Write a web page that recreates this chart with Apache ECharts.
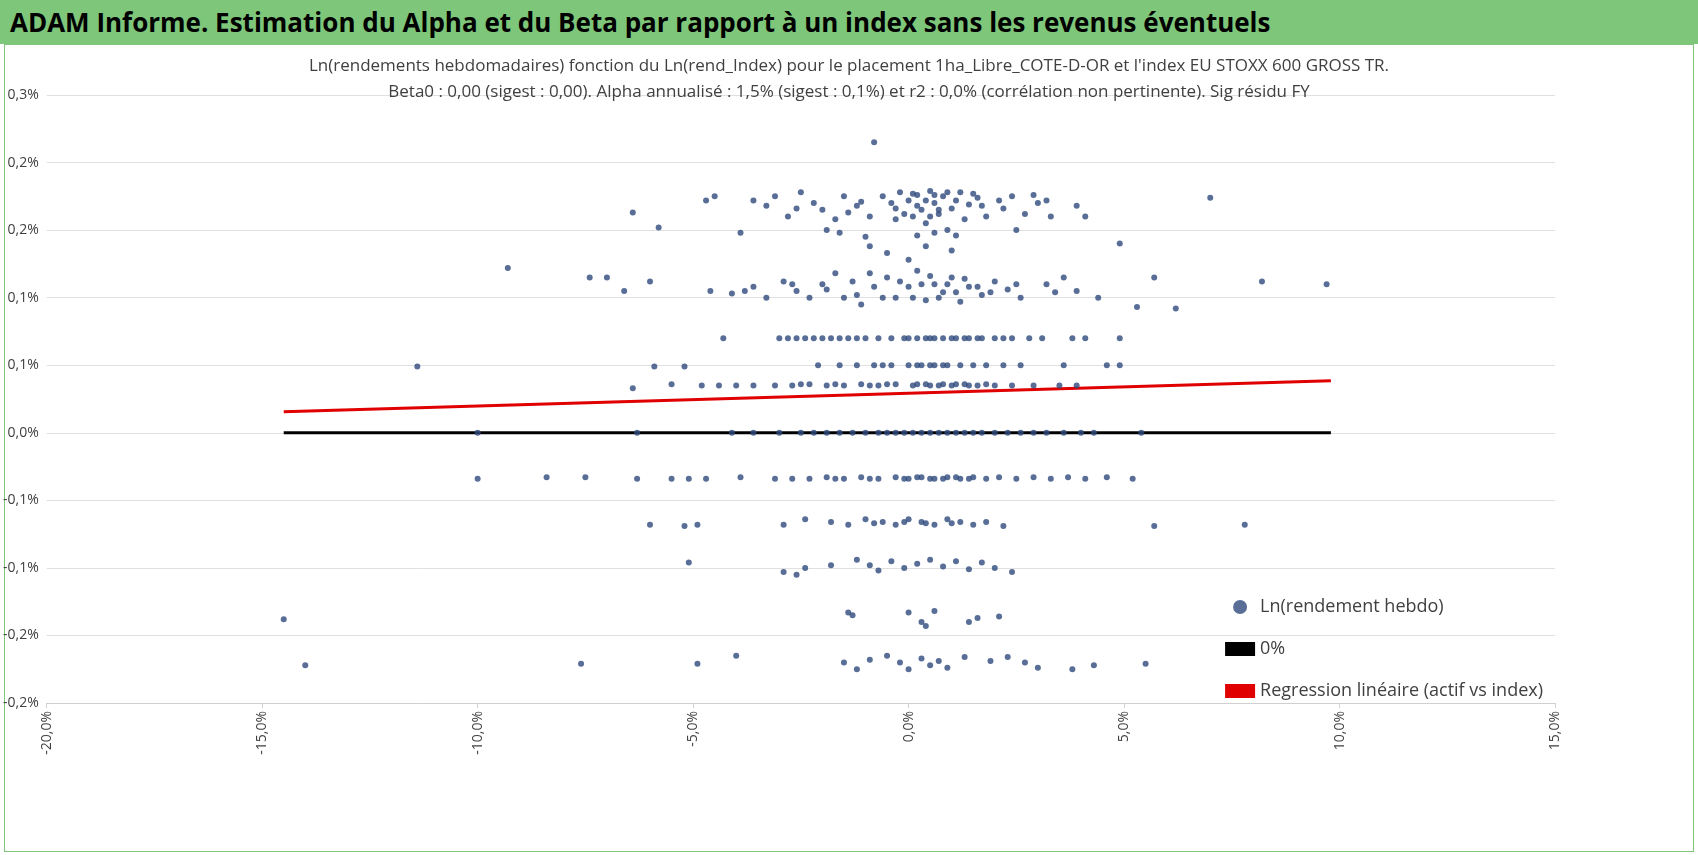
<!DOCTYPE html>
<html><head><meta charset="utf-8">
<script src="https://cdn.jsdelivr.net/npm/echarts@6/dist/echarts.min.js"></script>
<style>
html,body{margin:0;padding:0;background:#fff;}
#hdr{position:absolute;left:0;top:0;width:1698px;height:44px;background:#7dc67a;font:bold 26px "Open Sans",sans-serif;line-height:44px;box-sizing:border-box;padding-left:10px;}
#frame{position:absolute;left:4px;top:44px;width:1688px;height:806px;border:1px solid #7dc67a;}
#chart{position:absolute;left:0;top:44px;width:1698px;height:811px;}
</style></head><body>
<div id="hdr">ADAM Informe. Estimation du Alpha et du Beta par rapport à un index sans les revenus éventuels</div>
<div id="frame"></div>
<div id="chart"></div>
<script>
/* valeurs en % : [x (rend index), y (rend hebdo)] */
const band017 = [[-6.4,0.163],[-5.8,0.152],[-4.7,0.172],[-4.5,0.175],[-3.9,0.148],[-3.3,0.168],[-3.1,0.175],[-2.8,0.160],[-2.5,0.178],[-2.2,0.170],[-2.0,0.165],[-1.7,0.158],[-1.5,0.175],[-1.2,0.168],[-0.9,0.160],[-0.8,0.215],[-0.6,0.175],[-0.4,0.170],[-0.2,0.178],[0.0,0.172],[0.2,0.176],[0.3,0.165],[0.5,0.179],[0.6,0.170],[0.8,0.175],[1.0,0.166],[1.2,0.178],[1.4,0.169],[1.6,0.174],[1.8,0.160],[2.1,0.172],[2.4,0.175],[2.7,0.162],[3.0,0.170],[3.3,0.160],[3.9,0.168],[4.1,0.160],[7.0,0.174],
  [-1.9,0.150],[-1.0,0.145],[-0.3,0.158],[0.1,0.160],[0.4,0.155],[0.7,0.162],[0.9,0.150],[1.3,0.158],[2.5,0.150],[-0.5,0.133],[0.0,0.128],[0.4,0.138],[-0.9,0.138],[1.0,0.135],[4.9,0.140],
  [-3.6,0.172],[-2.6,0.166],[-1.4,0.163],[-1.1,0.171],[-0.3,0.166],[0.1,0.177],[0.2,0.168],[0.4,0.172],[0.6,0.176],[0.7,0.165],[0.9,0.178],[1.1,0.172],[1.5,0.177],[2.2,0.166],[2.9,0.176],[3.2,0.172],[-0.1,0.162],[0.5,0.160],[1.7,0.168],[-1.6,0.148],[0.2,0.146],[0.6,0.148],[1.1,0.146]];
const band010 = [[-9.3,0.122],[-7.4,0.115],[-7.0,0.115],[-6.6,0.105],[-6.0,0.112],[-4.6,0.105],[-3.8,0.105],[-3.6,0.108],[-3.3,0.100],[-2.9,0.112],[-2.6,0.105],[-2.3,0.100],[-2.0,0.110],[-1.7,0.118],[-1.5,0.100],[-1.3,0.112],[-1.1,0.095],[-0.8,0.108],[-0.5,0.115],[-0.3,0.100],[0.0,0.108],[0.2,0.120],[0.4,0.098],[0.6,0.110],[0.8,0.104],[1.0,0.115],[1.2,0.097],[1.4,0.108],[1.7,0.102],[2.0,0.112],[2.3,0.106],[2.6,0.100],[3.2,0.110],[3.6,0.115],[3.9,0.105],[4.4,0.100],[5.3,0.093],[5.7,0.115],[6.2,0.092],[8.2,0.112],[9.7,0.110],
  [-4.1,0.103],[-2.7,0.110],[-1.9,0.106],[-1.2,0.102],[-0.9,0.118],[-0.6,0.100],[-0.2,0.112],[0.1,0.100],[0.3,0.110],[0.5,0.116],[0.7,0.100],[0.9,0.110],[1.1,0.104],[1.3,0.114],[1.6,0.108],[1.9,0.104],[2.5,0.110],[3.4,0.104]];
const band007 = [[-4.3,0.070],[-3.0,0.070],[-2.8,0.070],[-2.6,0.070],[-2.4,0.070],[-2.2,0.070],[-2.0,0.070],[-1.8,0.070],[-1.6,0.070],[-1.4,0.070],[-1.2,0.070],[-1.0,0.070],[-0.7,0.070],[-0.4,0.070],[-0.1,0.070],[0.0,0.070],[0.2,0.070],[0.4,0.070],[0.5,0.070],[0.6,0.070],[0.8,0.070],[1.0,0.070],[1.1,0.070],[1.3,0.070],[1.4,0.070],[1.6,0.070],[1.7,0.070],[2.0,0.070],[2.2,0.070],[2.4,0.070],[2.8,0.070],[3.1,0.070],[3.8,0.070],[4.1,0.070],[4.9,0.070]];
const band005 = [[-11.4,0.049],[-5.9,0.049],[-5.2,0.049],[-2.1,0.050],[-1.6,0.050],[-1.2,0.050],[-0.8,0.050],[-0.6,0.050],[-0.4,0.050],[0.0,0.050],[0.2,0.050],[0.3,0.050],[0.5,0.050],[0.6,0.050],[0.8,0.050],[0.9,0.050],[1.2,0.050],[1.5,0.050],[1.8,0.050],[2.2,0.050],[2.6,0.050],[3.6,0.050],[4.6,0.050],[4.9,0.050]];
const band0035 = [[-6.4,0.033],[-5.5,0.036],[-4.8,0.035],[-4.4,0.035],[-4.0,0.035],[-3.6,0.035],[-3.1,0.035],[-2.7,0.035],[-2.5,0.036],[-2.3,0.036],[-1.9,0.035],[-1.7,0.036],[-1.5,0.035],[-1.1,0.036],[-0.9,0.035],[-0.7,0.035],[-0.5,0.036],[-0.3,0.036],[0.1,0.035],[0.2,0.036],[0.4,0.036],[0.5,0.035],[0.7,0.035],[0.8,0.036],[1.0,0.035],[1.1,0.036],[1.3,0.036],[1.4,0.035],[1.6,0.035],[1.8,0.036],[2.0,0.035],[2.4,0.035],[2.9,0.035],[3.5,0.035],[3.9,0.035]];
const band000 = [[-10.0,0],[-6.3,0],[-4.1,0],[-3.6,0],[-3.0,0],[-2.5,0],[-2.2,0],[-1.9,0],[-1.6,0],[-1.3,0],[-1.0,0],[-0.7,0],[-0.5,0],[-0.3,0],[-0.1,0],[0.1,0],[0.3,0],[0.5,0],[0.7,0],[0.9,0],[1.1,0],[1.3,0],[1.5,0],[1.7,0],[2.0,0],[2.3,0],[2.6,0],[2.9,0],[3.2,0],[3.6,0],[4.0,0],[4.3,0],[5.4,0]];
const bandm033 = [[-10.0,-0.034],[-8.4,-0.033],[-7.5,-0.033],[-6.3,-0.034],[-5.5,-0.034],[-5.1,-0.034],[-4.7,-0.034],[-3.9,-0.033],[-3.1,-0.034],[-2.7,-0.034],[-2.3,-0.034],[-1.9,-0.033],[-1.7,-0.034],[-1.5,-0.034],[-1.1,-0.033],[-0.9,-0.034],[-0.7,-0.034],[-0.3,-0.033],[-0.1,-0.034],[0.0,-0.034],[0.2,-0.033],[0.3,-0.033],[0.5,-0.034],[0.6,-0.034],[0.8,-0.034],[0.9,-0.033],[1.1,-0.033],[1.2,-0.034],[1.4,-0.034],[1.5,-0.033],[1.8,-0.034],[2.1,-0.033],[2.5,-0.034],[2.9,-0.033],[3.3,-0.034],[3.7,-0.033],[4.1,-0.034],[4.6,-0.033],[5.2,-0.034]];
const bandm066 = [[-6.0,-0.068],[-5.2,-0.069],[-4.9,-0.068],[-2.9,-0.068],[-2.4,-0.064],[-1.8,-0.066],[-1.4,-0.068],[-1.0,-0.064],[-0.8,-0.067],[-0.6,-0.066],[-0.3,-0.068],[-0.1,-0.066],[0.0,-0.064],[0.3,-0.066],[0.4,-0.067],[0.6,-0.068],[0.9,-0.064],[1.0,-0.067],[1.2,-0.066],[1.5,-0.068],[1.8,-0.066],[2.2,-0.069],[5.7,-0.069],[7.8,-0.068]];
const bandm098 = [[-5.1,-0.096],[-2.9,-0.103],[-2.6,-0.105],[-2.4,-0.100],[-1.8,-0.098],[-1.2,-0.094],[-0.9,-0.098],[-0.7,-0.102],[-0.4,-0.095],[-0.1,-0.100],[0.2,-0.097],[0.5,-0.094],[0.8,-0.099],[1.1,-0.095],[1.4,-0.101],[1.7,-0.096],[2.0,-0.100],[2.4,-0.103]];
const bandm137 = [[-14.5,-0.138],[-1.4,-0.133],[-1.3,-0.135],[0.0,-0.133],[0.3,-0.140],[0.4,-0.143],[0.6,-0.132],[1.4,-0.140],[1.6,-0.137],[2.1,-0.136]];
const bandm168 = [[-14.0,-0.172],[-7.6,-0.171],[-4.9,-0.171],[-4.0,-0.165],[-1.5,-0.170],[-1.2,-0.175],[-0.9,-0.168],[-0.5,-0.165],[-0.2,-0.170],[0.0,-0.175],[0.3,-0.167],[0.5,-0.172],[0.7,-0.169],[0.9,-0.174],[1.3,-0.166],[1.9,-0.169],[2.3,-0.166],[2.7,-0.170],[3.0,-0.174],[3.8,-0.175],[4.3,-0.172],[5.5,-0.171]];
const zeroLine = [[-14.5,0],[9.8,0]];
const regLine = [[-14.5,0.0156],[9.8,0.0385]];

const points = [].concat(band017,band010,band007,band005,band0035,band000,bandm033,bandm066,bandm098,bandm137,bandm168);
// arrondi à 1 décimale, demi loin de zéro, virgule décimale
const fmt = v => {
  const r = Math.sign(v) * Math.round(Math.abs(v) * 10 + 1e-9) / 10;
  return (r === 0 ? 0 : r).toFixed(1).replace('.', ',') + '%';
};

const chart = echarts.init(document.getElementById('chart'));
chart.setOption({
  animation:false,
  title:{text:"Ln(rendements hebdomadaires) fonction du Ln(rend_Index) pour le placement 1ha_Libre_COTE-D-OR et l'index EU STOXX 600 GROSS TR.\nBeta0 : 0,00 (sigest : 0,00). Alpha annualisé : 1,5% (sigest : 0,1%) et r2 : 0,0% (corrélation non pertinente). Sig résidu FY",
    left:'center',top:4,textStyle:{fontFamily:'Open Sans',fontSize:17,fontWeight:'normal',color:'#404040',lineHeight:26,align:'center'}},
  grid:{left:45,right:143,top:51,bottom:152},
  xAxis:{type:'value',min:-20,max:15,interval:5,
    axisLabel:{formatter:fmt,rotate:90,fontFamily:'Open Sans',fontSize:14,color:'#404040'},
    axisLine:{onZero:false,lineStyle:{color:'#d0d0d0'}},axisTick:{show:true,lineStyle:{color:'#d0d0d0'}},splitLine:{show:false}},
  yAxis:{type:'value',min:-0.2,max:0.25,interval:0.05,
    axisLabel:{formatter:fmt,fontFamily:'Open Sans',fontSize:14,color:'#404040'},
    axisLine:{show:false},axisTick:{show:false},splitLine:{lineStyle:{color:'#e0e0e0'}}},
  legend:{orient:'vertical',right:150,bottom:150,itemGap:24,itemWidth:30,
    textStyle:{fontFamily:'Open Sans',fontSize:18,color:'#404040'},
    data:[{name:'Ln(rendement hebdo)',icon:'circle',itemStyle:{color:'#2e4a7d'}},{name:'0%',icon:'rect'},{name:'Regression linéaire (actif vs index)',icon:'rect'}]},
  series:[
    {name:'Ln(rendement hebdo)',type:'scatter',data:points,symbolSize:6,itemStyle:{color:'#2e4a7d'},z:3},
    {name:'0%',type:'line',data:zeroLine,symbol:'none',lineStyle:{color:'#000',width:3},itemStyle:{color:'#000'}},
    {name:'Regression linéaire (actif vs index)',type:'line',data:regLine,symbol:'none',lineStyle:{color:'#e00000',width:3},itemStyle:{color:'#e00000'}}
  ]
});
</script></body></html>
